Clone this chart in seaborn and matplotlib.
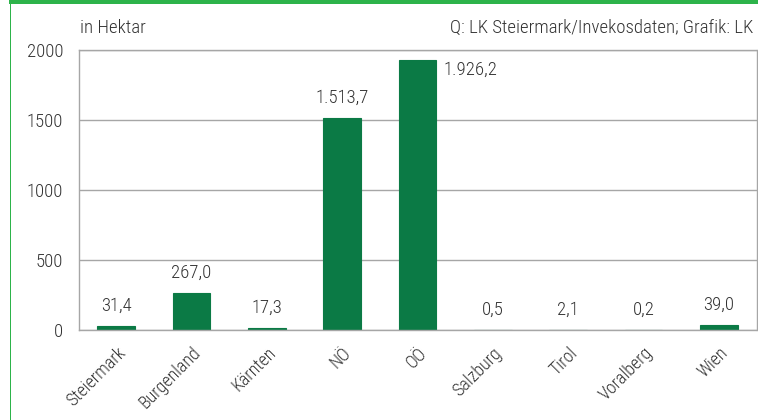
import matplotlib
matplotlib.use("Agg")
import matplotlib.pyplot as plt
import seaborn as sns
import pandas as pd
from matplotlib.patches import Rectangle

# =========================
# DATA
# =========================

regions = ["Steiermark", "Burgenland", "Kärnten", "NÖ", "OÖ",
           "Salzburg", "Tirol", "Voralberg", "Wien"]
hectares = [31.4, 267.0, 17.3, 1513.7, 1926.2, 0.5, 2.1, 0.2, 39.0]
y_ticks = [0, 500, 1000, 1500, 2000]

df = pd.DataFrame({"Region": regions, "Hektar": hectares})


def de_format(v):
    # German number format: 1.513,7
    s = f"{v:,.1f}"
    return s.replace(",", "X").replace(".", ",").replace("X", ".")


# =========================
# STYLE
# =========================

sns.set_style("white")
plt.rcParams["font.family"] = ["Roboto Condensed", "DejaVu Sans"]
plt.rcParams["font.weight"] = "light"
text_col = "#333333"
bar_col = "#0B7A45"
grid_col = "#A6A6A6"
frame_col = "#2DB34A"
fs = 13.5

fig = plt.figure(figsize=(7.58, 4.2), dpi=100)
ax = fig.add_axes([78.5 / 758, 1 - 330 / 420, (756.5 - 78.5) / 758, 280 / 420])

sns.barplot(data=df, x="Region", y="Hektar", color=bar_col, width=0.5,
            saturation=1, edgecolor=bar_col, linewidth=0.8, ax=ax)

ax.set_ylim(0, 2000)
ax.set_xlim(-0.5, len(regions) - 0.5)
ax.set_yticks(y_ticks)
ax.set_yticklabels([str(t) for t in y_ticks], fontsize=fs, color=text_col)
ax.set_xlabel("")
ax.set_ylabel("")

# category boundaries as tick marks
ax.set_xticks(range(len(regions)))
ax.set_xticklabels(regions, rotation=45, ha="right", rotation_mode="anchor",
                   fontsize=13, color=text_col)
ax.set_xticks([i - 0.5 for i in range(len(regions) + 1)], minor=True)
ax.tick_params(axis="x", which="major", length=0, pad=10)
ax.tick_params(axis="x", which="minor", length=6, color=grid_col, width=1)
ax.tick_params(axis="y", length=6, color=grid_col, width=1, pad=5)

ax.yaxis.grid(True, color=grid_col, linewidth=1)
ax.set_axisbelow(True)
for side in ["left", "bottom", "top", "right"]:
    ax.spines[side].set_visible(True)
    ax.spines[side].set_color(grid_col)
    ax.spines[side].set_linewidth(1)

# value labels: above the bars, the tallest one beside its bar top
bars = ax.containers[0]
tallest = hectares.index(max(hectares))
for i, (rect, v) in enumerate(zip(bars, hectares)):
    cx = rect.get_x() + rect.get_width() / 2
    if i == tallest:
        ax.annotate(de_format(v), (rect.get_x() + rect.get_width(), v),
                    xytext=(5, -7), textcoords="offset points",
                    ha="left", va="center", fontsize=fs, color=text_col)
    else:
        ax.annotate(de_format(v), (cx, v), xytext=(0, 8),
                    textcoords="offset points", ha="center", va="bottom",
                    fontsize=fs, color=text_col)

fig.text(80 / 758, 1 - 28 / 420, "in Hektar", fontsize=fs, color=text_col,
         va="center", ha="left")
fig.text(753 / 758, 1 - 28 / 420, "Q: LK Steiermark/Invekosdaten; Grafik: LK",
         fontsize=fs, color=text_col, va="center", ha="right")

# green frame
fig.add_artist(Rectangle((9 / 758, 1 - 3.5 / 420), 1, 3.5 / 420,
                         transform=fig.transFigure, color=frame_col, lw=0))
fig.add_artist(Rectangle((9.5 / 758, 0), 1.8 / 758, 1,
                         transform=fig.transFigure, color=frame_col, lw=0))

plt.savefig("out.png", dpi=100)
